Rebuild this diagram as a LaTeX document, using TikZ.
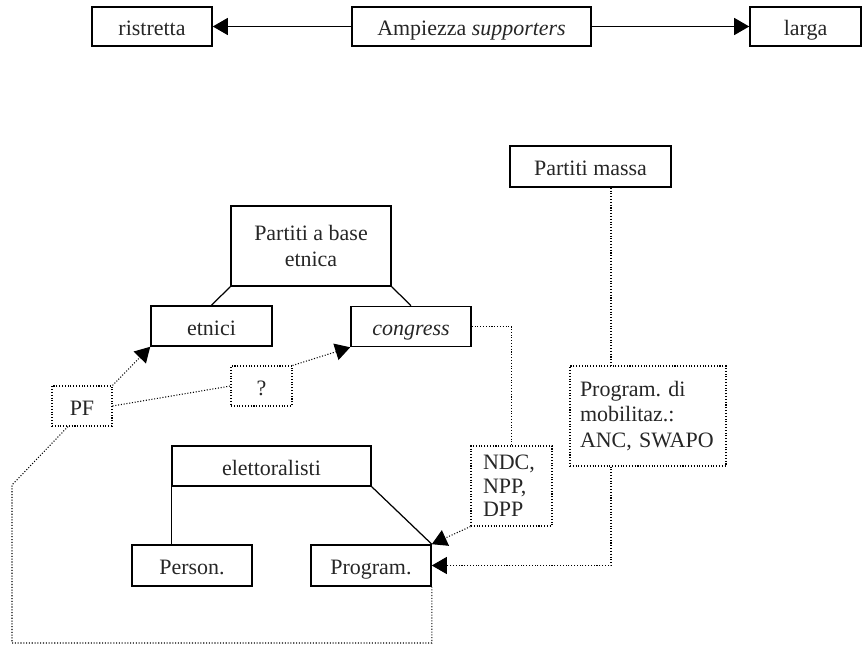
\documentclass[tikz,border=0pt]{standalone}
\usepackage{fontspec}
\setmainfont{Liberation Serif}
\usetikzlibrary{arrows.meta}
\frenchspacing

\begin{document}
\begin{tikzpicture}[x=0.2mm, y=-0.2mm,
    every node/.style={font=\fontsize{12.5}{14.5}\selectfont, text=black!85, inner sep=0pt},
    box/.style={draw, line width=0.9pt, minimum height=8mm},
    dotbox/.style={draw, densely dotted, line width=0.6pt, minimum height=8mm},
    oneline/.style={text height=11pt, text depth=0.2pt},
    link/.style={line width=0.7pt},
    dotlink/.style={densely dotted, line width=0.6pt},
    tip/.style={-{Triangle[length=3mm,width=3.4mm]}}
  ]
  \useasboundingbox (0,0) rectangle (863,645);

  % scala in alto
  \node[box, oneline, minimum width=24mm, minimum height=7.8mm] (ristretta) at (152,26.5) {ristretta};
  \node[box, oneline, minimum width=47.8mm, minimum height=7.8mm] (ampiezza) at (471.5,26.5) {Ampiezza \textit{supporters}};
  \node[box, oneline, minimum width=22.2mm, minimum height=7.8mm] (larga) at (805.5,26.5) {larga};

  \draw[link, tip] (ampiezza) -- (ristretta);
  \draw[link, tip] (ampiezza) -- (larga);

  % famiglie di partiti
  \node[box, oneline, minimum width=32.2mm, minimum height=8.2mm] (massa) at (590.5,166.5) {Partiti massa};
  \node[box, minimum width=32mm, minimum height=16mm, align=center] (etnica) at (311,246) {Partiti a base\\etnica};
  \node[box, oneline, minimum width=24.2mm] (etnici) at (211.5,326) {etnici};
  \node[box, oneline, minimum width=24mm] (congress) at (411,326.5) {\textit{congress}};
  \node[box, oneline, minimum width=39.8mm] (elett) at (271.5,466) {elettoralisti};
  \node[box, oneline, minimum width=24mm, minimum height=8.2mm] (person) at (192,565.5) {Person.};
  \node[box, oneline, minimum width=24mm, minimum height=8.2mm] (program) at (371,565.5) {Program.};

  % casi
  \node[dotbox, oneline, minimum width=12mm] (pf) at (82,406) {PF};
  \node[dotbox, oneline, minimum width=12.2mm] (q) at (261.5,386) {?};
  \node[dotbox, minimum height=16mm, text width=11.4mm, inner xsep=2.4mm, align=left,
        font=\fontsize{12.5}{13.5}\selectfont] (ndc) at (511.5,486) {NDC,\\NPP,\\DPP};
  \node[dotbox, minimum height=20mm, text width=27.2mm, inner xsep=2mm, align=left] (mob) at (648,416) {Program. di\\mobilitaz.:\\ANC, SWAPO};

  \draw[link] (etnica.south west) -- (etnici.north);
  \draw[link] (etnica.south east) -- (congress.north);
  \draw[link] (elett.south west) -- (elett.south west |- person.north);
  \draw[link] (elett.south east) -- (program.north east);

  \draw[dotlink, tip] (pf.north east) -- (etnici.south west);
  \draw[dotlink] (pf.east) -- (q.west);
  \draw[dotlink, tip] (q.north east) -- (congress.south west);
  \draw[dotlink] (congress.east) -| (ndc.north);
  \draw[dotlink, tip] (ndc.south west) -- (program.north east);

  \coordinate (drop) at (611,0);
  \draw[dotlink] (massa.south -| drop) -- (mob.north -| drop);
  \draw[dotlink, tip] (mob.south -| drop) |- (program.east);

  \coordinate (c1) at (12,485);
  \coordinate (c2) at (12,643);
  \draw[dotlink] ([xshift=-2.8mm]pf.south) -- (c1) -- (c2) -| (program.south east);
\end{tikzpicture}
\end{document}
